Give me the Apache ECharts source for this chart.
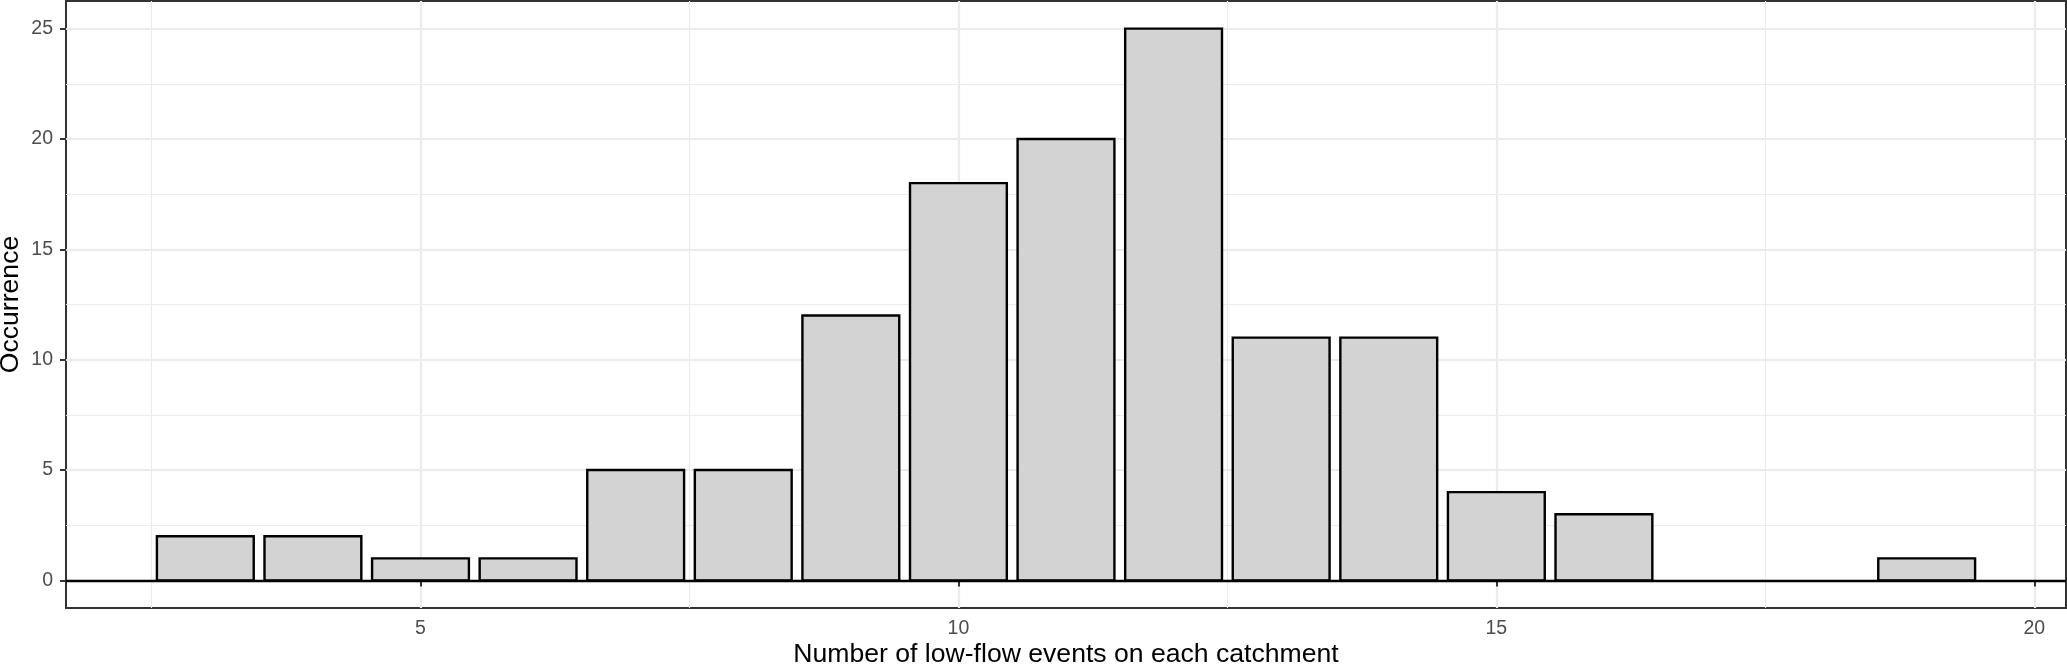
<!DOCTYPE html>
<html>
<head>
<meta charset="utf-8">
<script src="https://cdn.jsdelivr.net/npm/echarts@6/dist/echarts.min.js"></script>
<style>
html,body{margin:0;padding:0;background:#fff;}
#chart{width:2067px;height:666px;}
</style>
</head>
<body>
<div id="chart"></div>
<script>
// Data
var eventCounts = [3, 4, 5, 6, 7, 8, 9, 10, 11, 12, 13, 14, 15, 16, 19];
var occurrences = [2, 2, 1, 1, 5, 5, 12, 18, 20, 25, 11, 11, 4, 3, 1];
var xMajorTicks = [5, 10, 15, 20];
var xMinorTicks = [2.5, 7.5, 12.5, 17.5];
var yMajorTicks = [0, 5, 10, 15, 20, 25];
var yMinorTicks = [2.5, 7.5, 12.5, 17.5, 22.5];
var xTitle = 'Number of low-flow events on each catchment';
var yTitle = 'Occurrence';

var BAR_HALF = 0.45;
var FONT = '"Liberation Sans", Arial, Helvetica, sans-serif';

var barData = eventCounts.map(function (x, i) { return [x, occurrences[i]]; });

function renderBar(params, api) {
  var x = api.value(0), y = api.value(1);
  var p0 = api.coord([x - BAR_HALF, y]);
  var p1 = api.coord([x + BAR_HALF, 0]);
  return {
    type: 'rect',
    shape: { x: p0[0], y: p0[1], width: p1[0] - p0[0], height: p1[1] - p0[1] },
    style: { fill: '#D3D3D3', stroke: '#000000', lineWidth: 2.4 }
  };
}

var xMin = 1.705, xMax = 20.295, yMin = -1.25, yMax = 26.25;

var chart = echarts.init(document.getElementById('chart'), null, { renderer: 'canvas' });
chart.setOption({
  animation: false,
  backgroundColor: '#ffffff',
  grid: {
    left: 66, right: 1, top: 1, bottom: 58,
    containLabel: false, outerBoundsMode: 'none',
    show: true, borderColor: '#333333', borderWidth: 2, backgroundColor: 'transparent'
  },
  xAxis: [{
    type: 'value', min: xMin, max: xMax,
    name: xTitle, nameLocation: 'middle', nameGap: 33, nameMoveOverlap: false,
    nameTextStyle: { color: '#000', fontSize: 26.6, fontFamily: FONT },
    axisLine: { show: false },
    axisTick: { show: true, customValues: xMajorTicks, length: 6, lineStyle: { color: '#333333', width: 2 } },
    axisLabel: { show: true, customValues: xMajorTicks, color: '#4D4D4D', fontSize: 19.5, fontFamily: FONT, margin: 11 },
    splitLine: { show: true, lineStyle: { color: '#EBEBEB', width: 2.2 } }
  }, {
    type: 'value', min: xMin, max: xMax, position: 'bottom',
    axisLine: { show: false },
    axisTick: { show: false, customValues: xMinorTicks },
    axisLabel: { show: false, customValues: xMinorTicks },
    splitLine: { show: true, lineStyle: { color: '#EBEBEB', width: 1.1 } }
  }],
  yAxis: [{
    type: 'value', min: yMin, max: yMax,
    name: yTitle, nameLocation: 'middle', nameGap: 42, nameMoveOverlap: false,
    nameTextStyle: { color: '#000', fontSize: 26.6, fontFamily: FONT },
    axisLine: { show: false },
    axisTick: { show: true, customValues: yMajorTicks, length: 6, lineStyle: { color: '#333333', width: 2 } },
    axisLabel: { show: true, customValues: yMajorTicks, color: '#4D4D4D', fontSize: 19.5, fontFamily: FONT, margin: 13 },
    splitLine: { show: true, lineStyle: { color: '#EBEBEB', width: 2.2 } }
  }, {
    type: 'value', min: yMin, max: yMax, position: 'left',
    axisLine: { show: false },
    axisTick: { show: false, customValues: yMinorTicks },
    axisLabel: { show: false, customValues: yMinorTicks },
    splitLine: { show: true, lineStyle: { color: '#EBEBEB', width: 1.1 } }
  }],
  series: [{
    type: 'custom',
    xAxisIndex: 0, yAxisIndex: 0,
    renderItem: renderBar,
    data: barData,
    encode: { x: 0, y: 1 },
    z: 3,
    markLine: {
      silent: true, symbol: 'none', animation: false,
      label: { show: false },
      lineStyle: { color: '#000000', width: 2.4, type: 'solid' },
      data: [{ yAxis: 0 }],
      z: 5
    }
  }]
});
</script>
</body>
</html>
